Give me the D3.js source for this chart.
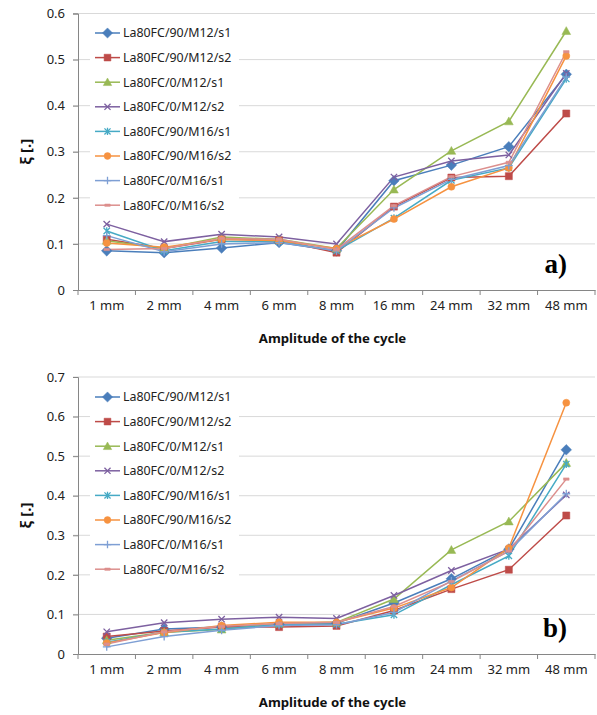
<!DOCTYPE html>
<html>
<head>
<meta charset="utf-8">
<script src="https://cdn.jsdelivr.net/npm/d3@7"></script>
<style>
  body { margin: 0; background: #fff; }
  svg { display: block; font-family: "Noto Sans", "Open Sans", sans-serif; }
</style>
</head>
<body>
<svg id="main" width="597" height="715"></svg>
<script>
// categories and series names
const amplitudes = ["1 mm", "2 mm", "4 mm", "6 mm", "8 mm", "16 mm", "24 mm", "32 mm", "48 mm"];
const seriesNames = ["La80FC/90/M12/s1", "La80FC/90/M12/s2", "La80FC/0/M12/s1", "La80FC/0/M12/s2",
                     "La80FC/90/M16/s1", "La80FC/90/M16/s2", "La80FC/0/M16/s1", "La80FC/0/M16/s2"];

// panel a) values
const a90M12s1 = [0.085, 0.081, 0.091, 0.103, 0.085, 0.237, 0.271, 0.311, 0.468];
const a90M12s2 = [0.110, 0.090, 0.110, 0.108, 0.081, 0.181, 0.244, 0.247, 0.383];
const a0M12s1  = [0.107, 0.090, 0.115, 0.110, 0.090, 0.218, 0.302, 0.366, 0.562];
const a0M12s2  = [0.143, 0.105, 0.121, 0.115, 0.100, 0.245, 0.280, 0.293, 0.470];
const a90M16s1 = [0.128, 0.085, 0.105, 0.105, 0.085, 0.156, 0.238, 0.265, 0.458];
const a90M16s2 = [0.102, 0.093, 0.110, 0.107, 0.090, 0.154, 0.224, 0.265, 0.508];
const a0M16s1  = [0.118, 0.083, 0.100, 0.103, 0.085, 0.178, 0.240, 0.270, 0.462];
const a0M16s2  = [0.088, 0.090, 0.112, 0.110, 0.088, 0.183, 0.246, 0.277, 0.517];

// panel b) values
const b90M12s1 = [0.040, 0.063, 0.068, 0.075, 0.078, 0.129, 0.190, 0.265, 0.516];
const b90M12s2 = [0.044, 0.058, 0.068, 0.068, 0.071, 0.110, 0.164, 0.213, 0.350];
const b0M12s1  = [0.035, 0.055, 0.062, 0.077, 0.080, 0.139, 0.263, 0.335, 0.483];
const b0M12s2  = [0.056, 0.079, 0.088, 0.093, 0.090, 0.148, 0.211, 0.265, 0.402];
const b90M16s1 = [0.030, 0.055, 0.063, 0.075, 0.075, 0.099, 0.175, 0.248, 0.480];
const b90M16s2 = [0.028, 0.054, 0.072, 0.080, 0.080, 0.116, 0.168, 0.268, 0.635];
const b0M16s1  = [0.018, 0.044, 0.060, 0.072, 0.074, 0.105, 0.185, 0.260, 0.405];
const b0M16s2  = [0.025, 0.056, 0.070, 0.077, 0.080, 0.120, 0.183, 0.260, 0.442];

const colors = ["#4a7ebb", "#be4b48", "#98b954", "#7d60a0", "#46aac5", "#f69240", "#7e9fd4", "#dc8f8d"];

// custom marker shapes for d3.symbol
const mk = {
  diamond: { draw(c, s) { const r = Math.sqrt(s) * 0.75; c.moveTo(0, -r); c.lineTo(r, 0); c.lineTo(0, r); c.lineTo(-r, 0); c.closePath(); } },
  square:  { draw(c, s) { const r = Math.sqrt(s) / 2; c.rect(-r, -r, 2 * r, 2 * r); } },
  tri:     { draw(c, s) { const r = Math.sqrt(s) * 0.62; c.moveTo(0, -r); c.lineTo(r, r * 0.8); c.lineTo(-r, r * 0.8); c.closePath(); } },
  x:       { draw(c, s) { const r = Math.sqrt(s) * 0.45; c.moveTo(-r, -r); c.lineTo(r, r); c.moveTo(r, -r); c.lineTo(-r, r); } },
  star:    { draw(c, s) { const r = Math.sqrt(s) * 0.45; c.moveTo(-r, -r); c.lineTo(r, r); c.moveTo(r, -r); c.lineTo(-r, r); c.moveTo(0, -r * 1.2); c.lineTo(0, r * 1.2); } },
  circle:  { draw(c, s) { const r = Math.sqrt(s) / 2; c.moveTo(r, 0); c.arc(0, 0, r, 0, 2 * Math.PI); } },
  plus:    { draw(c, s) { const r = Math.sqrt(s) * 0.55; c.moveTo(-r, 0); c.lineTo(r, 0); c.moveTo(0, -r); c.lineTo(0, r); } },
  dash:    { draw(c, s) { const r = Math.sqrt(s) * 0.4; c.rect(-r, -1.2, 2 * r, 2.4); } }
};
const shapes = [mk.diamond, mk.square, mk.tri, mk.x, mk.star, mk.circle, mk.plus, mk.dash];
const filled = [true, true, true, false, false, true, false, true];

const svg = d3.select("svg#main");

function panel(series, yMax, top, bottom, tag, legendY) {
  const left = 78, right = 595;
  const x = d3.scaleBand().domain(amplitudes).range([left, right]);
  const y = d3.scaleLinear().domain([0, yMax]).range([bottom, top]);
  const g = svg.append("g");
  const yTicks = d3.range(0, yMax + 0.0001, 0.1);

  // gridlines
  g.append("g").selectAll("line").data(yTicks.slice(1)).enter().append("line")
    .attr("x1", left - 5).attr("x2", right)
    .attr("y1", d => y(d)).attr("y2", d => y(d))
    .attr("stroke", "#d9d9d9").attr("stroke-width", 1);

  // y axis
  const ya = g.append("g").attr("transform", `translate(${left},0)`)
    .call(d3.axisLeft(y).tickValues(yTicks).tickFormat(d => d === 0 ? "0" : d3.format(".1f")(d)).tickSize(5))
    .attr("font-family", null);
  ya.select(".domain").attr("stroke", "#868686");
  ya.selectAll(".tick line").attr("stroke", "#868686");
  ya.selectAll("text").attr("font-size", 13).attr("fill", "#222").attr("x", -13);

  // x axis
  const xa = g.append("g").attr("transform", `translate(0,${bottom})`)
    .call(d3.axisBottom(x).tickSize(0))
    .attr("font-family", null);
  xa.select(".domain").attr("stroke", "#868686");
  xa.selectAll("text").attr("font-size", 13).attr("fill", "#222").attr("dy", "1.3em");
  g.append("g").selectAll("line").data(d3.range(amplitudes.length + 1)).enter().append("line")
    .attr("x1", i => left + i * x.step()).attr("x2", i => left + i * x.step())
    .attr("y1", bottom).attr("y2", bottom + 5)
    .attr("stroke", "#868686");

  // legend background
  g.append("rect").attr("x", 90).attr("y", legendY - 14).attr("width", 149).attr("height", 197).attr("fill", "#fff");

  const line = d3.line().x((d, i) => x(amplitudes[i]) + x.bandwidth() / 2).y(d => y(d));
  series.forEach((vals, k) => {
    g.append("path").datum(vals).attr("d", line)
      .attr("fill", "none").attr("stroke", colors[k]).attr("stroke-width", 1.5);
  });
  series.forEach((vals, k) => {
    const sym = d3.symbol().type(shapes[k]).size(50);
    g.append("g").selectAll("path").data(vals).enter().append("path")
      .attr("transform", (d, i) => `translate(${x(amplitudes[i]) + x.bandwidth() / 2},${y(d)})`)
      .attr("d", sym)
      .attr("fill", filled[k] ? colors[k] : "none")
      .attr("stroke", colors[k]).attr("stroke-width", filled[k] ? 0.5 : 1.3);
  });

  // legend
  const leg = g.append("g").selectAll("g").data(seriesNames).enter().append("g")
    .attr("transform", (d, i) => `translate(95,${legendY + i * 24.6})`);
  leg.append("line").attr("x1", 0).attr("x2", 25).attr("stroke", (d, i) => colors[i]).attr("stroke-width", 1.5);
  leg.append("path")
    .attr("transform", "translate(12.5,0)")
    .attr("d", (d, i) => d3.symbol().type(shapes[i]).size(46)())
    .attr("fill", (d, i) => filled[i] ? colors[i] : "none")
    .attr("stroke", (d, i) => colors[i]).attr("stroke-width", (d, i) => filled[i] ? 0.5 : 1.3);
  leg.append("text").attr("x", 28).attr("dy", "0.35em").attr("font-size", 12.4).attr("fill", "#222").text(d => d);

  // titles
  g.append("text").attr("x", (left + right) / 2 - 4).attr("y", bottom + 53)
    .attr("text-anchor", "middle").attr("font-size", 13.2).attr("font-weight", "bold").attr("fill", "#111")
    .text("Amplitude of the cycle");
  g.append("text").attr("transform", `translate(31,${(top + bottom) / 2}) rotate(-90)`)
    .attr("text-anchor", "middle").attr("font-size", 15).attr("font-weight", "bold").attr("fill", "#111")
    .text("ξ [.]");
  g.append("text").attr("x", 567).attr("y", bottom - 17).attr("text-anchor", "end")
    .attr("font-family", "'Liberation Serif', 'DejaVu Serif', serif").attr("font-weight", "bold")
    .attr("font-size", 27).attr("fill", "#000").text(tag);
}

panel([a90M12s1, a90M12s2, a0M12s1, a0M12s2, a90M16s1, a90M16s2, a0M16s1, a0M16s2], 0.6, 13.5, 290, "a)", 33);
panel([b90M12s1, b90M12s2, b0M12s1, b0M12s2, b90M16s1, b90M16s2, b0M16s1, b0M16s2], 0.7, 377, 654, "b)", 397);
</script>
</body>
</html>
